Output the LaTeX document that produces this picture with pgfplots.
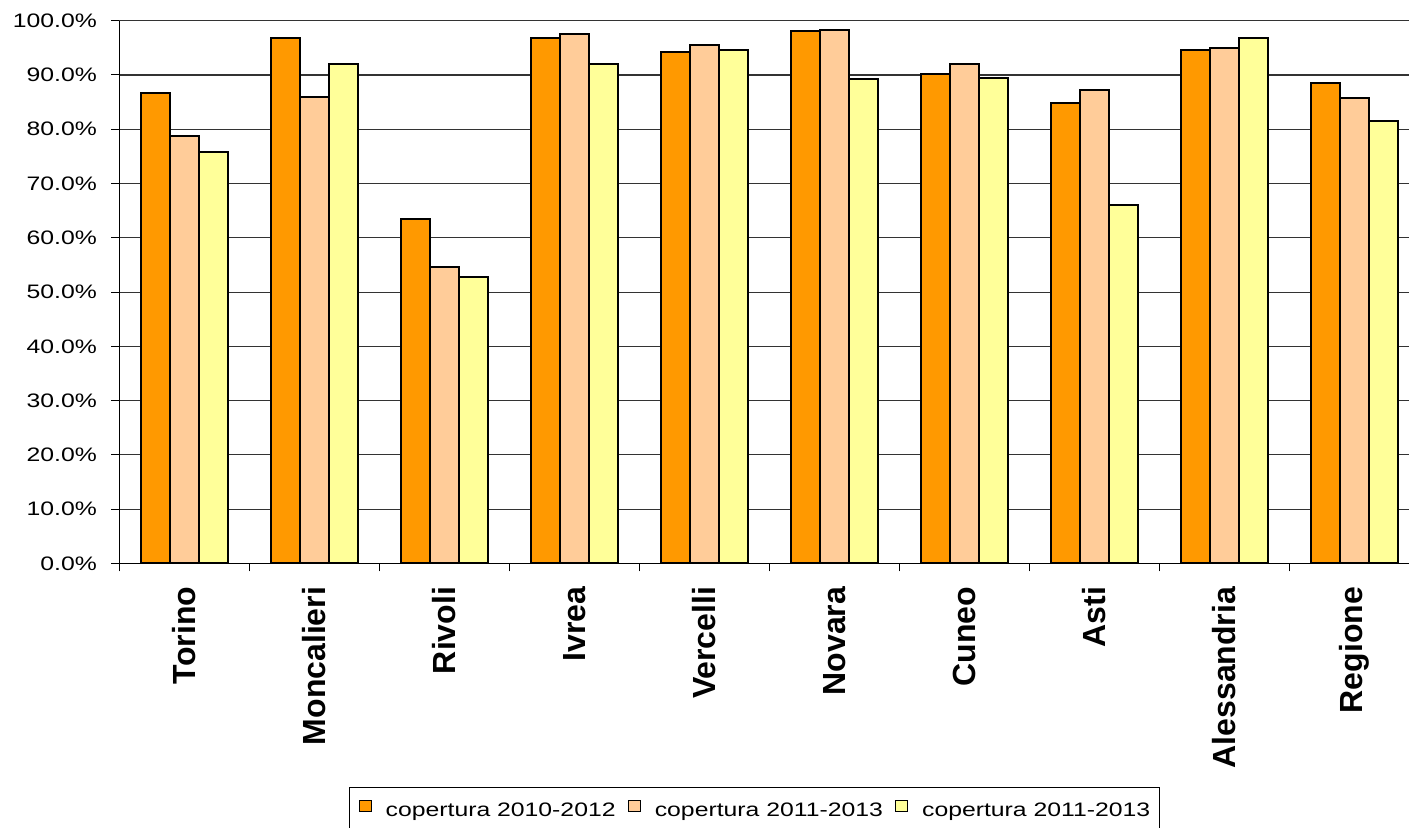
\documentclass[border=0pt]{standalone}
\usepackage{fontspec}
\setmainfont{Liberation Sans}
\newfontfamily\widefont[FakeStretch=1.27]{Liberation Sans}
\usepackage{pgfplots}
\pgfplotsset{compat=1.18}
\definecolor{cA}{HTML}{FF9900}
\definecolor{cB}{HTML}{FFCC99}
\definecolor{cC}{HTML}{FFFF99}
\definecolor{gridc}{HTML}{333333}
\pgfplotsset{sq/.style={legend image code/.code={\draw[##1,line width=0.6pt] (0pt,-0.3pt) rectangle (6pt,5.5pt);}}}
\begin{document}
\begin{tikzpicture}
\useasboundingbox (0,0) rectangle (704.5pt,414pt);
\begin{axis}[
  at={(59.65pt,132.25pt)}, anchor=south west,
  scale only axis, width=644.85pt, height=271.4pt,
  xmin=-0.5, xmax=9.42, ymin=0, ymax=100,
  axis x line*=bottom, axis y line*=left,
  axis line style={black, line width=0.6pt, -},
  ybar=0pt, bar width=0.223,
  tick align=outside, major tick length=4pt,
  tick style={black, line width=0.5pt},
  xtick={-0.5,0.5,...,8.5}, xticklabels={},
  extra x ticks={0,1,2,3,4,5,6,7,8,9},
  extra x tick labels={Torino,Moncalieri,Rivoli,Ivrea,Vercelli,Novara,Cuneo,Asti,Alessandria,Regione},
  extra x tick style={major tick length=0pt, xmajorgrids=false,
    xticklabel style={rotate=90, anchor=east, inner sep=0pt, font=\fontsize{16}{18}\selectfont\bfseries},
    xticklabel shift=11.5pt},
  ytick={0,10,...,100},
  yticklabel={\pgfmathprintnumber[fixed,fixed zerofill,precision=1]{\tick}\%},
  /pgf/number format/assume math mode=true,
  yticklabel style={font=\fontsize{9.75}{11}\widefont, inner sep=0pt},
  yticklabel shift=7pt,
  ymajorgrids, major grid style={gridc, line width=0.55pt},
  legend columns=3,
  legend style={at={(0.1781,-0.4118)}, anchor=north west, draw=black, line width=0.5pt,
    font=\fontsize{9.75}{11}\widefont, inner xsep=4.5pt, inner ysep=6pt,
    /tikz/every odd column/.append style={column sep=7pt},
    /tikz/every even column/.append style={column sep=6pt},
    nodes={inner sep=0pt}},
]
\addplot[fill=cA, draw=black, line width=1pt, sq] coordinates {(0,86.6) (1,96.8) (2,63.5) (3,96.8) (4,94.2) (5,98.1) (6,90.1) (7,84.8) (8,94.6) (9,88.6)};
\addplot[fill=cB, draw=black, line width=1pt, sq] coordinates {(0,78.7) (1,86.0) (2,54.6) (3,97.5) (4,95.6) (5,98.3) (6,92.1) (7,87.3) (8,94.9) (9,85.7)};
\addplot[fill=cC, draw=black, line width=1pt, sq] coordinates {(0,75.9) (1,92.0) (2,52.7) (3,92.0) (4,94.6) (5,89.2) (6,89.5) (7,66.0) (8,96.8) (9,81.6)};
\legend{copertura 2010-2012, copertura 2011-2013, copertura 2011-2013}
\end{axis}
\end{tikzpicture}
\end{document}
